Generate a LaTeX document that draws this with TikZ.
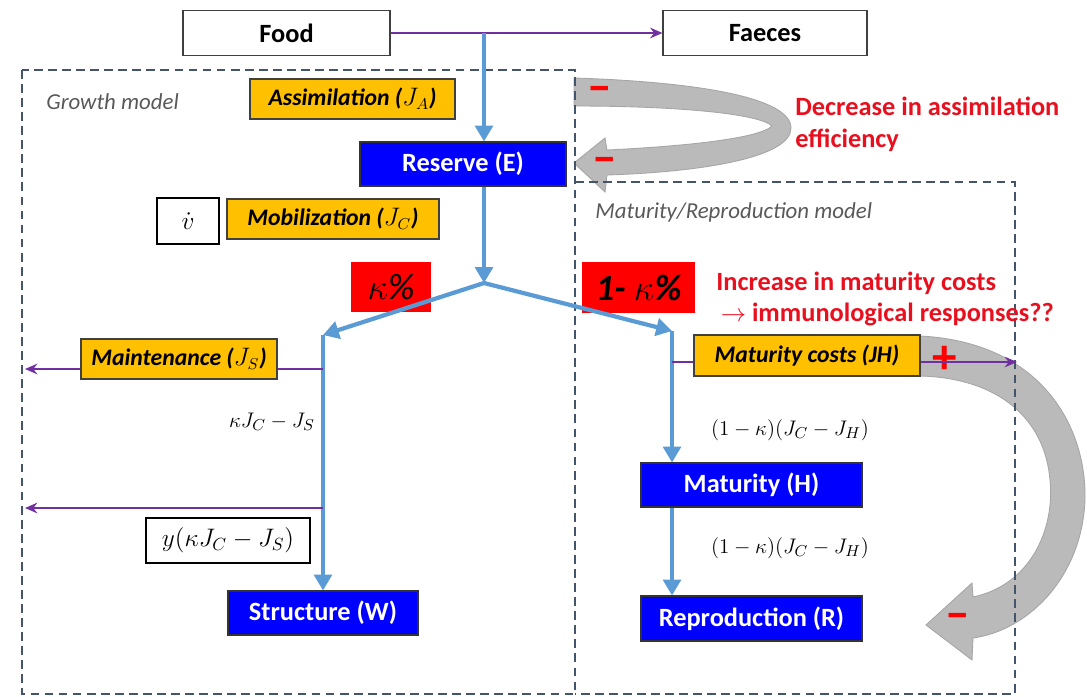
\documentclass[tikz,border=0pt]{standalone}
\usepackage{fontspec}
\setmainfont{Carlito}
\usetikzlibrary{arrows.meta}
\definecolor{flowblue}{HTML}{5B9BD5}
\definecolor{fluxorange}{HTML}{FFC000}
\definecolor{stockblue}{HTML}{0000FF}
\definecolor{outpurple}{HTML}{7030A0}
\definecolor{modelgray}{HTML}{44546A}
\definecolor{warnred}{HTML}{E8101E}
\definecolor{fracred}{HTML}{FF0000}
\tikzset{
  sz/.style 2 args={minimum width=#1*0.02cm, minimum height=#2*0.02cm},
  plainbox/.style={draw=black!75, fill=white, line width=0.6pt, font=\fontsize{15}{18}\selectfont\bfseries},
  stockbox/.style={draw=black!80, fill=stockblue, text=white, line width=0.6pt, font=\fontsize{15}{18}\selectfont\bfseries},
  fluxbox/.style={draw=black!75, fill=fluxorange, line width=0.6pt, font=\fontsize{13.5}{16}\selectfont\bfseries\itshape},
  fracbox/.style={fill=fracred, font=\fontsize{21}{24}\selectfont\itshape},
  eqbox/.style={draw=black, fill=white, line width=1.3pt, font=\fontsize{14}{17}\selectfont},
  lbl/.style={font=\fontsize{12.5}{15}\selectfont},
  modelname/.style={text=black!65, font=\fontsize{13}{16}\selectfont\itshape},
  warn/.style={text=warnred, align=left, font=\fontsize{15}{18}\selectfont\bfseries},
  sign/.style={text=fracred, font=\fontsize{28}{30}\selectfont\bfseries},
  modelframe/.style={draw=modelgray, line width=1pt, dash pattern=on 5pt off 3pt},
  flow/.style={draw=flowblue, line width=2.4pt, -{Triangle[length=9pt,width=10pt]}},
  outflow/.style={draw=outpurple, line width=1.2pt, -{Stealth[length=7pt,width=6pt]}},
  bigarrow/.style={fill=black!27, draw=black!35, line width=0.5pt},
}
\begin{document}
\begin{tikzpicture}[x={(0.02cm,0cm)},y={(0cm,-0.02cm)},every node/.style={inner sep=0pt}]
  \useasboundingbox (0,0) rectangle (1087,696);

  % feedback arrows
  \path[bigarrow] (574,78) .. controls (700,82) and (791,98) .. (791,128)
    .. controls (791,158) and (700,172) .. (607,175) -- (605,192) -- (574,163)
    -- (605,138) -- (607,150) .. controls (690,146) and (760,138) .. (772,126)
    .. controls (760,114) and (680,106) .. (574,106) -- cycle;
  \path[bigarrow] (920,336) .. controls (1040,342) and (1086,425) .. (1085,498)
    .. controls (1083,575) and (1030,630) .. (973,638) -- (972,660) -- (926,625)
    -- (972,583) -- (973,597) .. controls (1030,585) and (1055,530) .. (1050,480)
    .. controls (1045,420) and (1000,378) .. (920,376) -- cycle;

  % model frames
  \draw[modelframe] (22,70) rectangle (575,694);
  \draw[modelframe] (575,182) -- (1015,182) -- (1015,694) -- (575,694);
  \node[modelname, anchor=west] (growthlbl) at (46,102) {Growth model};
  \node[modelname, anchor=west] (maturlbl) at (595,212) {Maturity/Reproduction model};

  % boxes
  \node[plainbox, sz={207}{45}] (food) at (286.5,33) {Food};
  \node[plainbox, sz={204}{45}] (faeces) at (765,33) {Faeces};
  \node[fluxbox, sz={205}{40}] (assim) at (352.5,99) {Assimilation ($J_A$)};
  \node[stockbox, sz={206}{44}] (reserve) at (463,164) {Reserve (E)};
  \node[eqbox, sz={62}{46}] (vdot) at (188,221) {$\dot{v}$};
  \node[fluxbox, sz={212}{40}] (mobil) at (333,219) {Mobilization ($J_C$)};
  \node[fracbox, sz={80}{50}] (kfrac) at (391,287) {$\kappa$\%};
  \node[fracbox, sz={113}{51}] (onekfrac) at (638.5,287.5) {\bfseries 1- $\kappa$\%};
  \node[fluxbox, sz={196}{40}] (maint) at (179,359) {Maintenance ($J_S$)};
  \node[eqbox, sz={164}{45}] (ykbox) at (228,540.5) {$y(\kappa J_C - J_S)$};
  \node[stockbox, sz={190}{44}] (struct) at (323,613) {Structure (W)};
  \node[fluxbox, sz={226}{41}] (matcost) at (807,355.5) {Maturity costs (JH)};
  \node[stockbox, sz={221}{44}] (matur) at (751.5,485) {Maturity (H)};
  \node[stockbox, sz={221}{45}] (repro) at (751.5,618.5) {Reproduction (R)};

  % flux labels
  \node[lbl] (kjlbl) at (272,422) {$\kappa J_C - J_S$};
  \node[lbl] (onekj1) at (790,430) {$(1-\kappa)(J_C - J_H)$};
  \node[lbl] (onekj2) at (790,548) {$(1-\kappa)(J_C - J_H)$};

  % effects
  \node[warn, anchor=west] (decr) at (795,124) {Decrease in assimilation\\efficiency};
  \node[warn, anchor=west] (incr) at (716,299) {Increase in maturity costs\\\,$\rightarrow$ immunological responses??};
  \node[sign] (minusA) at (600,94) {–};
  \node[sign] (minusB) at (605,165) {–};
  \node[sign] (plusH) at (945,360) {+};
  \node[sign] (minusR) at (958,621) {–};

  % flows
  \coordinate (fsplit) at (484,33);
  \coordinate (branch) at (484,283);
  \coordinate (kbend) at (323,335);
  \coordinate (okbend) at (672,331);
  \coordinate (mleft) at (25,369);
  \coordinate (gleft) at (25,508);
  \coordinate (hright) at (1017,362);
  \draw[outflow] (food) -- (faeces);
  \draw[flow] (fsplit) -- (fsplit |- reserve.north);
  \draw[flow] (branch |- reserve.south) -- (branch);
  \draw[flow] (branch) -- (kbend);
  \draw[flow] (branch) -- (okbend);
  \draw[flow] (kbend) -- (kbend |- struct.north);
  \draw[flow] (okbend) -- (okbend |- matur.north);
  \draw[flow] (okbend |- matur.south) -- (okbend |- repro.north);
  \draw[outflow, -] (kbend |- mleft) -- (maint.east |- mleft);
  \draw[outflow] (maint.west |- mleft) -- (mleft);
  \draw[outflow] (kbend |- gleft) -- (gleft);
  \draw[outflow, -] (okbend |- hright) -- (matcost.west |- hright);
  \draw[outflow] (matcost.east |- hright) -- (hright);
\end{tikzpicture}
\end{document}
